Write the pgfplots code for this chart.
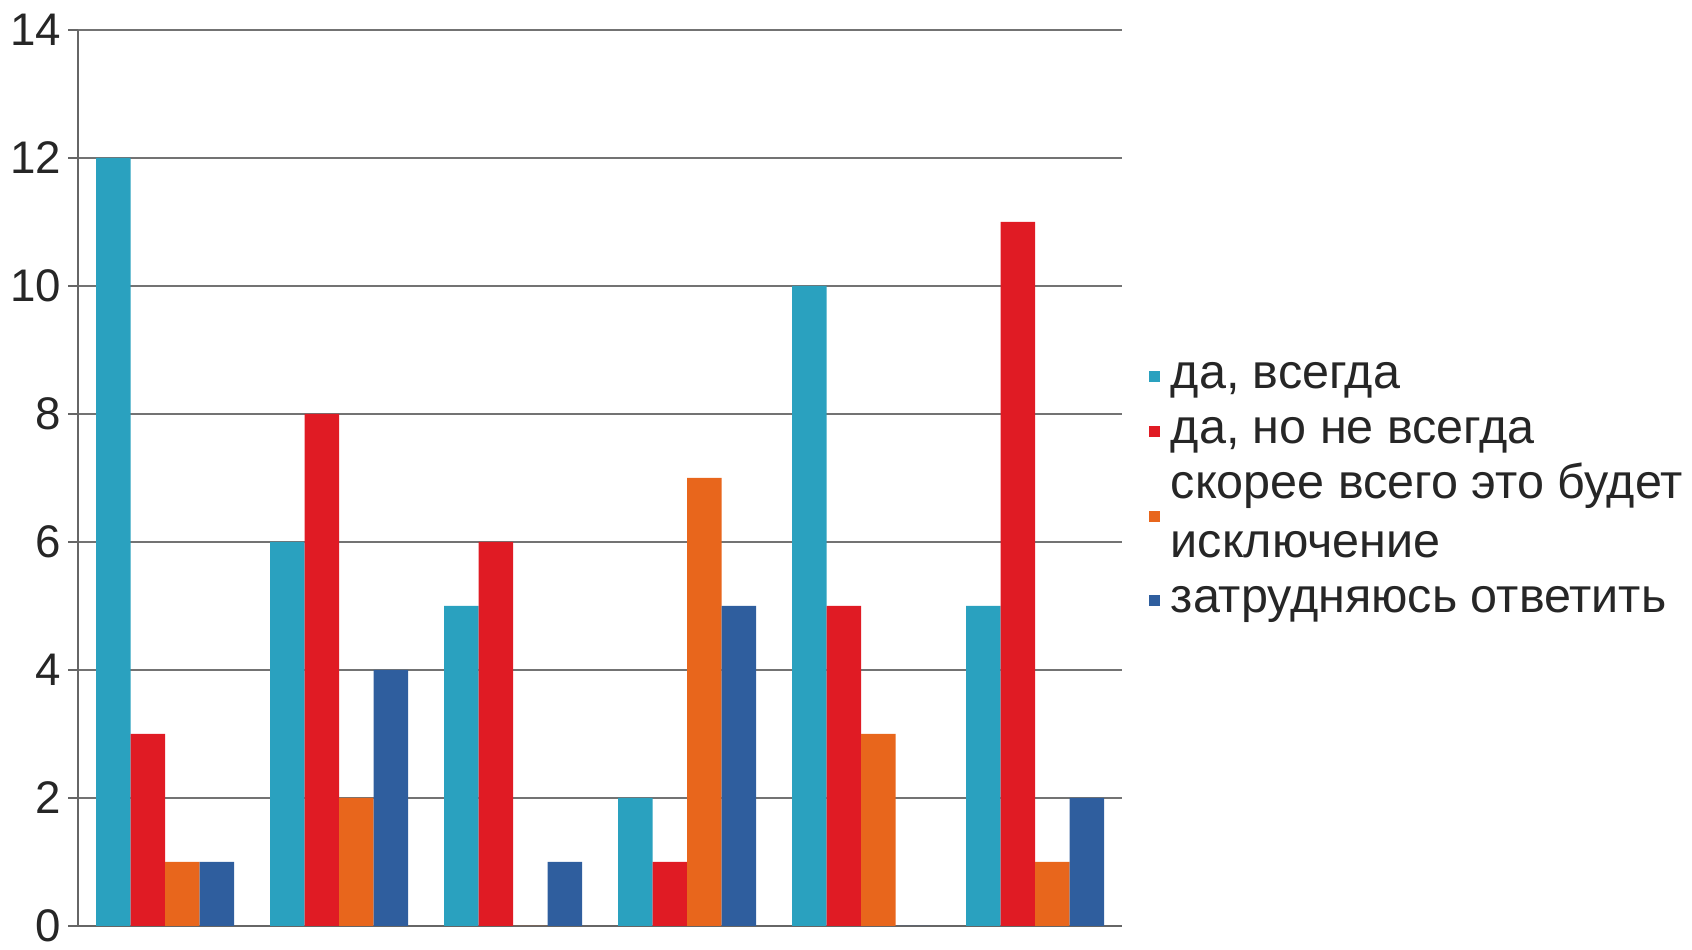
\documentclass[border=0pt]{standalone}
\usepackage{fontspec}
\setmainfont{Liberation Sans}
\usepackage{pgfplots}
\pgfplotsset{compat=1.18}
\definecolor{cA}{HTML}{2AA1BF}
\definecolor{cB}{HTML}{E01B24}
\definecolor{cC}{HTML}{E8661C}
\definecolor{cD}{HTML}{2F5E9E}
\newcommand\ls{\vrule width 0pt height 3.9mm depth 1.6mm\relax}
\begin{document}
\begin{tikzpicture}
\useasboundingbox (0,0) rectangle (16.92cm,9.5cm);
\begin{axis}[
  at={(0.78cm,0.24cm)}, anchor=south west,
  scale only axis, width=10.44cm, height=8.96cm,
  ybar=0pt, bar width=3.45mm,
  xmin=-0.5, xmax=5.5, ymin=0, ymax=14,
  xtick=\empty,
  ytick={0,2,...,14},
  axis x line*=bottom, axis y line*=left,
  axis line style={-, black!60, line width=0.6pt},
  ymajorgrids, grid style={black!55, line width=0.6pt},
  tick align=outside, major tick length=1mm,
  tick style={black!60, line width=0.6pt},
  /pgf/number format/assume math mode=true,
  yticklabel style={font=\fontsize{13}{15}\selectfont, color=black!85, inner sep=0pt, xshift=-0.6mm},
  legend style={at={(1.025,0.488)}, anchor=west, draw=none, fill=none,
    inner sep=0pt, row sep=0pt, column sep=1.1mm,
    font=\fontsize{13.8}{15.4}\selectfont,
    nodes={inner sep=0pt, text depth=, align=left, text=black!85}},
  legend cell align=left,
  legend image code/.code={\fill[#1] (0mm,-0.55mm) rectangle (1.1mm,0.55mm);},
]
\addplot[fill=cA, draw=none] coordinates {(0,12) (1,6) (2,5) (3,2) (4,10) (5,5)};
\addplot[fill=cB, draw=none] coordinates {(0,3) (1,8) (2,6) (3,1) (4,5) (5,11)};
\addplot[fill=cC, draw=none] coordinates {(0,1) (1,2) (2,0) (3,7) (4,3) (5,1)};
\addplot[fill=cD, draw=none] coordinates {(0,1) (1,4) (2,1) (3,5) (4,0) (5,2)};
\legend{{\ls да, всегда}, {\ls да, но не всегда}, {\ls скорее всего это будет\\исключение\ls}, {\ls затрудняюсь ответить}}
\end{axis}
\end{tikzpicture}
\end{document}
